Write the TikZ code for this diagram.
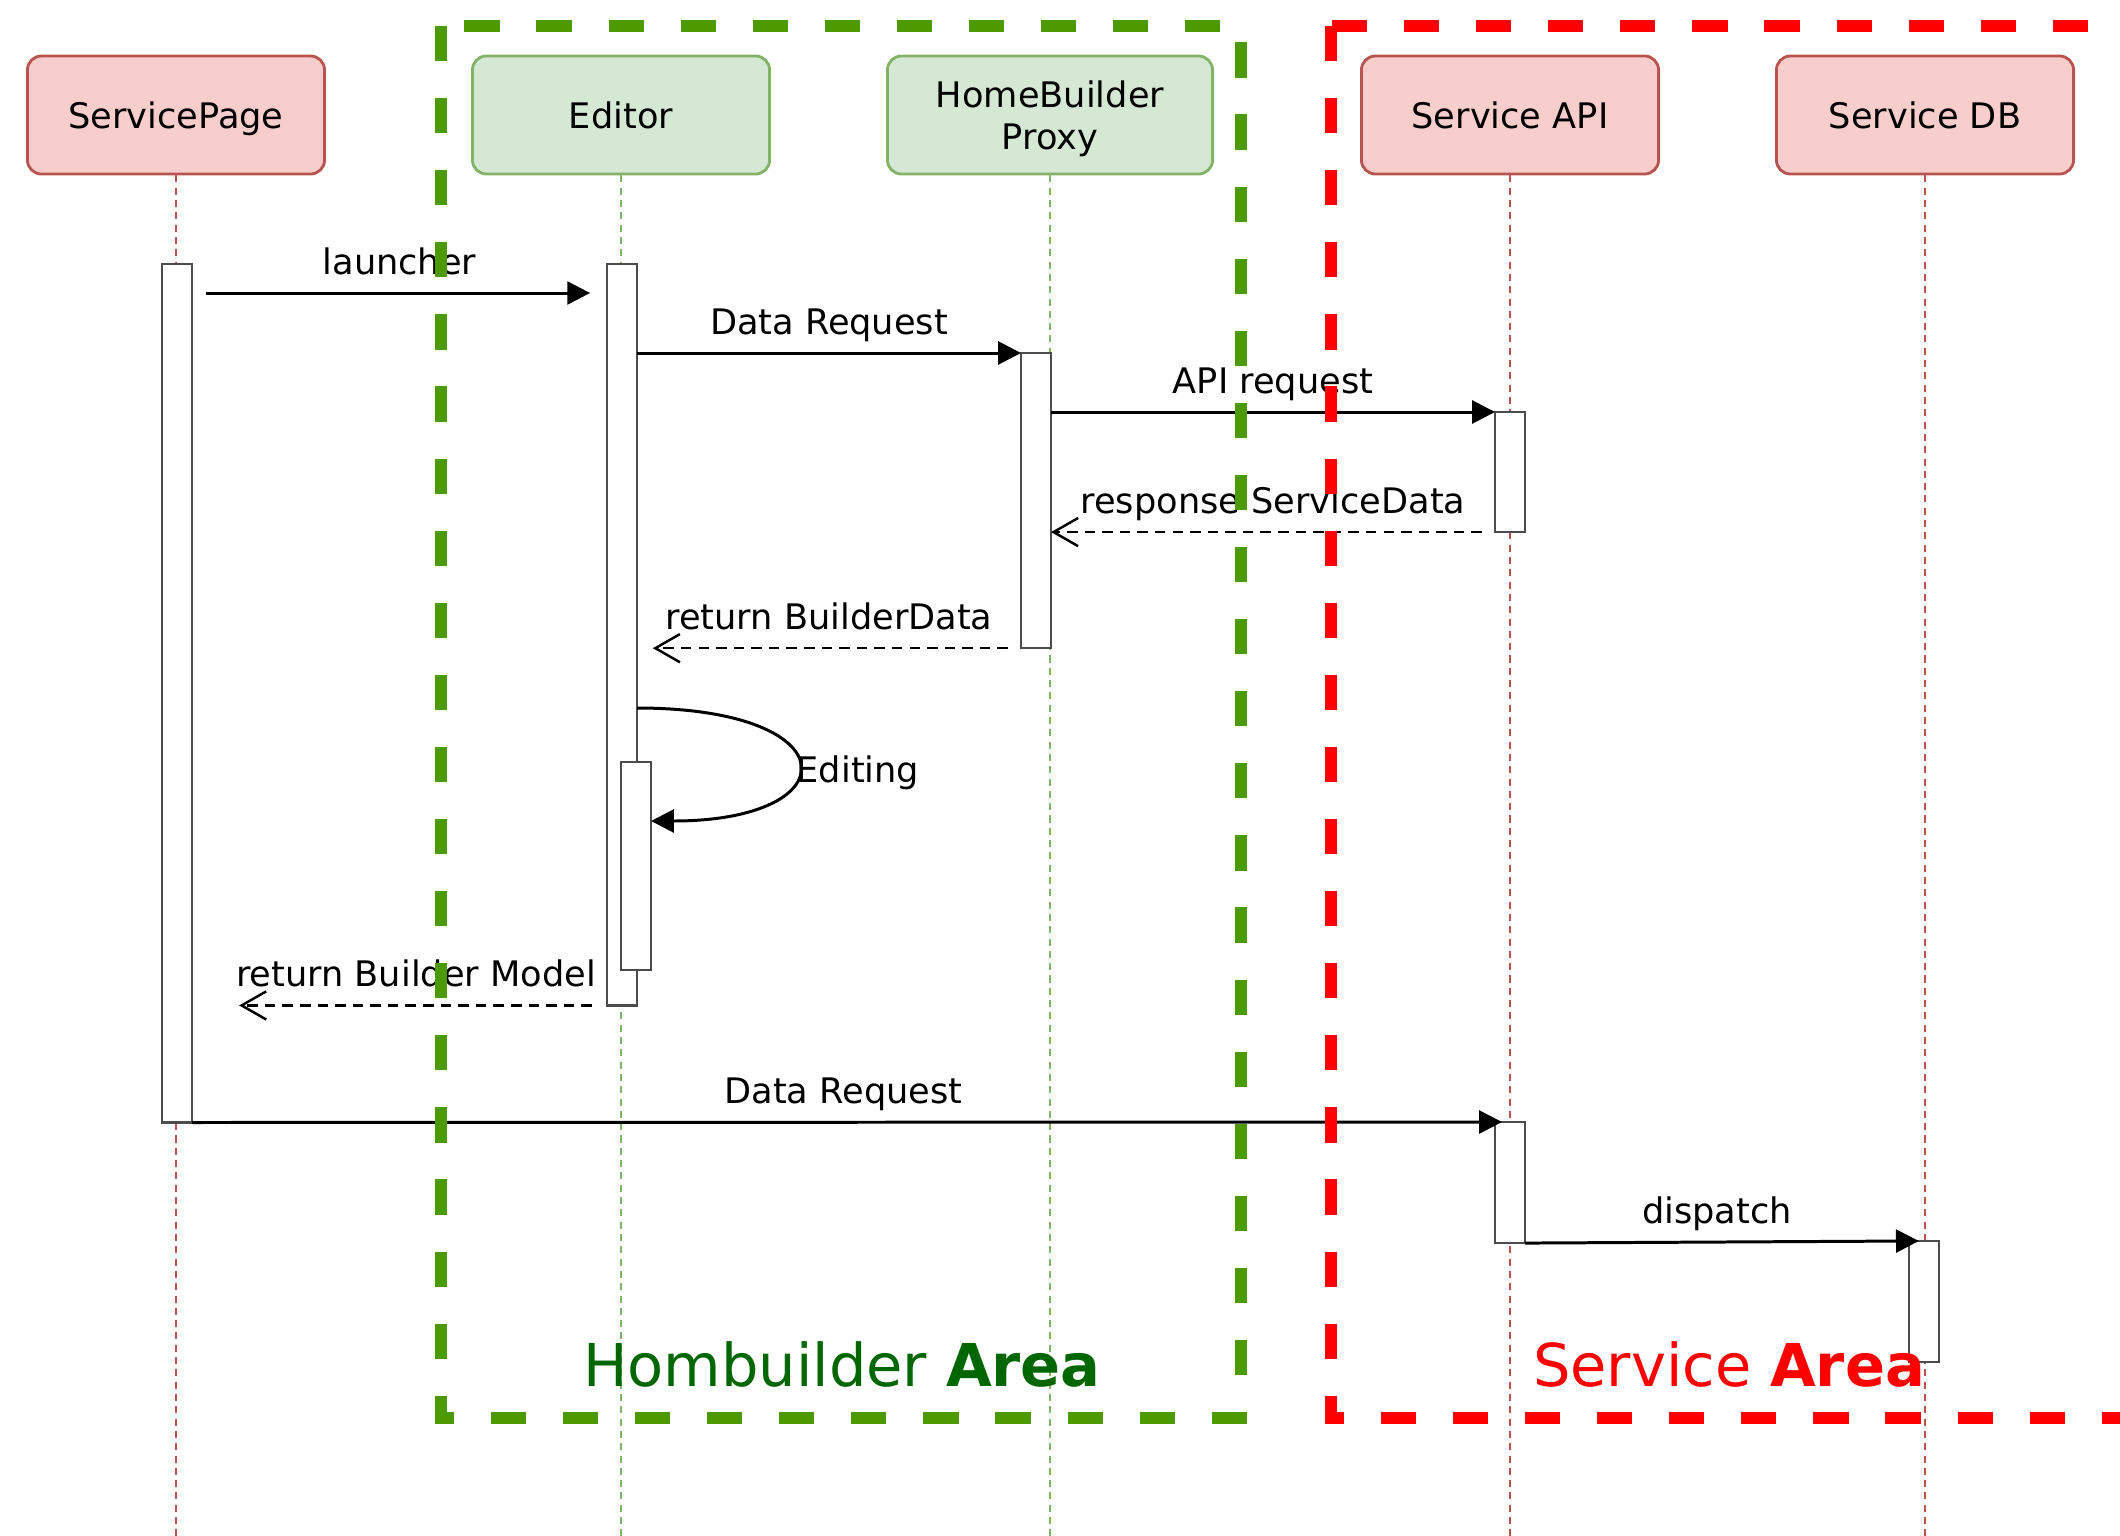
\documentclass[tikz,border=0pt]{standalone}
\usepackage{fontspec}
\setmainfont{DejaVu Sans}
\usetikzlibrary{arrows.meta}
\definecolor{redfill}{HTML}{F8CECC}
\definecolor{redline}{HTML}{B85450}
\definecolor{greenfill}{HTML}{D5E8D4}
\definecolor{greenline}{HTML}{82B366}
\definecolor{framegreen}{HTML}{4D9900}
\definecolor{areagreen}{HTML}{006600}
\begin{document}
\begin{tikzpicture}[x=0.01cm, y=-0.01cm, font=\fontsize{10}{12}\selectfont,
  redhead/.style={draw=redline, fill=redfill, line width=0.8pt, rounded corners=4pt, minimum width=2.97cm, minimum height=1.18cm, align=center, text depth=0pt},
  greenhead/.style={draw=greenline, fill=greenfill, line width=0.8pt, rounded corners=4pt, minimum width=2.97cm, minimum height=1.18cm, align=center, text depth=0pt},
  redlife/.style={draw=redline, line width=0.6pt, dash pattern=on 2pt off 1.5pt},
  greenlife/.style={draw=greenline, line width=0.6pt, dash pattern=on 2pt off 1.5pt},
  bar/.style={draw=black!70, fill=white, line width=0.75pt, minimum width=0.3cm, inner sep=0pt, outer sep=0pt, anchor=north},
  msg/.style={line width=0.85pt, -{Triangle[length=6.5pt,width=6.5pt]}},
  reply/.style={line width=0.7pt, dash pattern=on 3pt off 2pt, -{Straight Barb[length=7pt,width=8pt]}},
  lbl/.style={midway, anchor=base, yshift=5.4pt},
  area/.style={line width=3.2pt, dash pattern=on 10pt off 10.5pt},
  arealbl/.style={anchor=base, font=\fontsize{16.8}{20}\selectfont}]
\useasboundingbox (0,0) rectangle (2120,1536);
\clip (0,0) rectangle (2120,1536);
\node[redhead] (sp) at (176,115) {ServicePage};
\node[greenhead] (ed) at (621,115) {Editor};
\node[greenhead, minimum width=3.25cm] (px) at (1050,115) {HomeBuilder\\Proxy};
\node[redhead] (api) at (1510,115) {Service API};
\node[redhead] (db) at (1925,115) {Service DB};
\draw[redlife] (sp) -- (sp |- 0,1536);
\draw[greenlife] (ed) -- (ed |- 0,1536);
\draw[greenlife] (px) -- (px |- 0,1536);
\draw[redlife] (api) -- (api |- 0,1536);
\draw[redlife] (db) -- (db |- 0,1536);
\node[bar, minimum height=8.58cm] (spbar) at (177,264) {};
\node[bar, minimum height=7.41cm] (edbar) at (622,264) {};
\node[bar, minimum height=2.08cm] (edsub) at (636,762) {};
\node[bar, minimum height=2.95cm] (pxbar) at (1036,353) {};
\node[bar, minimum height=1.20cm] (apibar) at (1510,412) {};
\node[bar, minimum height=1.21cm] (apibar2) at (1510,1122) {};
\node[bar, minimum height=1.21cm] (dbbar) at (1924,1241) {};
\draw[msg, shorten <=4pt, shorten >=4.8pt] (spbar.east |- 0,293) -- node[lbl] (l1) {launcher} (edbar.west |- 0,293);
\draw[msg] (edbar.east |- pxbar.north) -- node[lbl] (l2) {Data Request} (pxbar.north west);
\draw[msg] (pxbar.east |- apibar.north) -- node[lbl] (l3) {API request} (apibar.north west);
\draw[reply, shorten <=3.7pt] (apibar.south west) -- node[lbl] (l4) {response ServiceData} (pxbar.east |- apibar.south);
\draw[reply, shorten <=3.7pt, shorten >=4.5pt] (pxbar.south west) -- node[lbl] (l5) {return BuilderData} (edbar.east |- pxbar.south);
\draw[msg] (edbar.east |- 0,708) .. controls (850,708) and (850,821) .. (edsub.east |- 0,821);
\node[anchor=base west, inner sep=0pt] (l6) at (796,782) {Editing};
\draw[reply, shorten <=4.3pt, shorten >=13.4pt] (edbar.south west) -- node[lbl, pos=0.46] (l7) {return Builder Model} (spbar.east |- edbar.south);
\draw[msg, shorten >=-2pt] (spbar.south east) -- node[lbl] (l8) {Data Request} (apibar2.north west);
\draw[msg, shorten >=-2.8pt] (apibar2.south east) -- node[lbl] (l9) {dispatch} (dbbar.north west);
\draw[area, draw=framegreen] (441,26) rectangle (1241,1418);
\draw[area, draw=red] (1331,26) rectangle (2300,1418);
\node[arealbl, text=areagreen] (hbarea) at (842,1386) {Hombuilder \textbf{Area}};
\node[arealbl, text=red] (svarea) at (1729,1386) {Service \textbf{Area}};
\end{tikzpicture}
\end{document}
